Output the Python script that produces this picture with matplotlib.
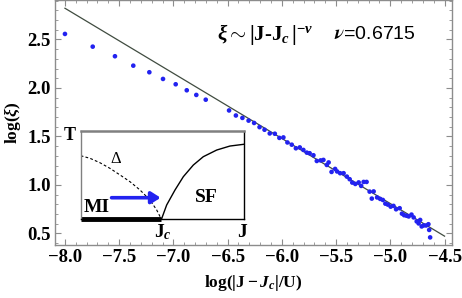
import numpy as np
import matplotlib
matplotlib.use('Agg')
from matplotlib import pyplot as plt
from matplotlib.ticker import MultipleLocator

plt.rcParams['font.family'] = ['Liberation Serif', 'DejaVu Serif']
plt.rcParams['font.weight'] = 'bold'
plt.rcParams['mathtext.fontset'] = 'custom'
plt.rcParams['mathtext.rm'] = 'Liberation Serif:bold'
plt.rcParams['mathtext.bf'] = 'Liberation Serif:bold'
plt.rcParams['mathtext.it'] = 'Liberation Serif:italic:bold'

# data: log(|J-Jc|/U) vs log(xi)
log_dj = [-8.000, -7.744, -7.539, -7.370, -7.222, -7.096, -6.979, -6.877, -6.789, -6.702,
          -6.487, -6.424, -6.364, -6.307, -6.256, -6.206, -6.160, -6.112, -6.065, -6.023,
          -5.986, -5.949, -5.909, -5.871, -5.835, -5.802, -5.770, -5.744, -5.709, -5.678,
          -5.643, -5.617, -5.586, -5.569, -5.542, -5.509, -5.491, -5.463, -5.431, -5.401,
          -5.375, -5.351, -5.323, -5.292, -5.269, -5.246, -5.219, -5.191, -5.171, -5.154,
          -5.122, -5.094, -5.069, -5.046, -5.023, -4.997, -4.971, -4.947, -4.914, -4.893,
          -4.873, -4.850, -4.831, -4.805, -4.785, -4.757, -4.739, -4.725, -4.711, -4.693,
          -4.670, -4.649, -4.642, -4.633]
log_xi = [2.557, 2.426, 2.327, 2.230, 2.162, 2.093, 2.038, 1.976, 1.928, 1.879,
          1.768, 1.716, 1.691, 1.663, 1.639, 1.596, 1.569, 1.531, 1.528, 1.485,
          1.490, 1.438, 1.415, 1.378, 1.387, 1.361, 1.333, 1.327, 1.306, 1.247,
          1.253, 1.258, 1.206, 1.232, 1.134, 1.165, 1.139, 1.121, 1.121, 1.086,
          1.059, 1.024, 1.010, 1.026, 0.990, 1.031, 1.031, 0.931, 0.859, 0.933,
          0.871, 0.856, 0.845, 0.807, 0.797, 0.776, 0.784, 0.749, 0.760, 0.704,
          0.688, 0.682, 0.675, 0.694, 0.665, 0.624, 0.603, 0.639, 0.572, 0.582,
          0.582, 0.595, 0.536, 0.459]

nu = 0.6715
intercept = -2.55
fit_range = [-8.0, -4.5]

# inset sketch (phase diagram), normalized coords
delta_u = [0.001, 0.058, 0.119, 0.180, 0.242, 0.303, 0.364, 0.425, 0.466, 0.495]
delta_v = [0.716, 0.687, 0.637, 0.574, 0.499, 0.423, 0.330, 0.217, 0.105, 0.0]
tc_u = [0.495, 0.527, 0.578, 0.629, 0.690, 0.751, 0.833, 0.914, 1.0]
tc_v = [0.0, 0.161, 0.330, 0.480, 0.611, 0.705, 0.780, 0.825, 0.845]

blue = '#2222f0'
frame = '#8c8c8c'

fig = plt.figure(figsize=(4.62, 2.98), dpi=100)
ax = fig.add_axes([0.119, 0.178, 0.859, 0.822])

xf = np.array(fit_range)
ax.plot(xf, -nu * xf + intercept, color='#404c40', lw=0.9, zorder=2)
ax.scatter(log_dj, log_xi, s=11, color=blue, edgecolors='none', zorder=3)

ax.set_xlim(-8.092, -4.433)
ax.set_ylim(0.381, 2.907)
ax.xaxis.set_major_locator(MultipleLocator(0.5))
ax.xaxis.set_minor_locator(MultipleLocator(0.1))
ax.yaxis.set_major_locator(MultipleLocator(0.5))
ax.yaxis.set_minor_locator(MultipleLocator(0.1))
ax.tick_params(which='both', direction='in', top=True, right=True, color=frame,
               labelsize=13.5, pad=3)
ax.tick_params(which='major', length=4, width=0.8)
ax.tick_params(which='minor', length=2, width=0.6)
for s in ax.spines.values():
    s.set_color(frame)
    s.set_linewidth(1.0)
ax.xaxis.set_major_formatter(plt.FuncFormatter(lambda v, p: f'{v:.1f}'.replace('-', '\u2212')))
ax.yaxis.set_major_formatter(plt.FuncFormatter(lambda v, p: f'{v:.1f}'))

ax.set_xlabel(r'$\mathrm{log(|J}-J_c\mathrm{|/U)}$', fontsize=12.5, labelpad=5)
ax.set_ylabel(r'$\mathrm{log(}\xi\mathrm{)}$', fontsize=12.5, labelpad=3)

ax.text(0.53, 0.858, r'$\xi\mathrm{\sim|J}$-$\mathrm{J}_c\,\mathrm{|}^{-\nu}$',
        transform=ax.transAxes, fontsize=15, ha='center', va='center')
ax.text(0.805, 0.858, r'$\nu$=0.6715', transform=ax.transAxes, fontsize=14,
        ha='center', va='center', family='Liberation Sans', weight='normal',
        math_fontfamily='stix')

# inset
axi = fig.add_axes([80.5 / 462, (298 - 219.3) / 298, 163.5 / 462, 88.8 / 298])
axi.set_xlim(0, 1)
axi.set_ylim(0, 1)
axi.set_xticks([])
axi.set_yticks([])
axi.spines['top'].set_color('#808080')
axi.spines['top'].set_linewidth(1.8)
axi.spines['left'].set_color('#808080')
axi.spines['left'].set_linewidth(1.0)
axi.spines['right'].set_color('black')
axi.spines['right'].set_linewidth(1.0)
axi.spines['bottom'].set_color('black')
axi.spines['bottom'].set_linewidth(1.0)

axi.plot(delta_u, delta_v, color='black', lw=0.8, ls=(0, (2.5, 2)))
axi.plot(tc_u, tc_v, color='black', lw=1.0)
axi.plot([0, delta_u[-1]], [0, 0], color='black', lw=3.5, solid_capstyle='butt', clip_on=False)
axi.annotate('', xy=(0.49, 0.243), xytext=(0.19, 0.243),
             arrowprops=dict(arrowstyle='-|>,head_length=0.55,head_width=0.35',
                             lw=2.6, color=blue, shrinkA=0, shrinkB=0))

axi.text(-0.065, 0.94, 'T', fontsize=13, ha='center', va='center', clip_on=False)
axi.text(0.1, 0.13, 'MI', fontsize=14, ha='center', va='center')
axi.text(0.772, 0.25, 'SF', fontsize=14, ha='center', va='center')
axi.text(0.217, 0.676, '\u0394', fontsize=12, weight='normal', ha='center', va='center')
axi.text(0.506, -0.15, r'$\mathrm{J}_c$', fontsize=14, ha='center', va='center', clip_on=False)
axi.text(0.99, -0.15, 'J', fontsize=14, ha='center', va='center', clip_on=False)

fig.savefig('out.png', dpi=100)
